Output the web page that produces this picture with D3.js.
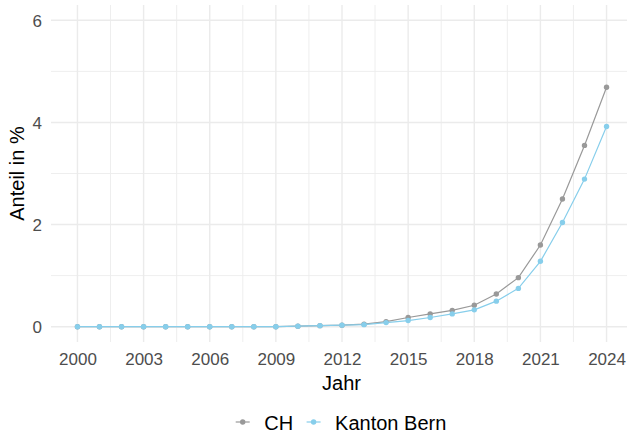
<!DOCTYPE html>
<html>
<head>
<meta charset="utf-8">
<script src="https://cdn.jsdelivr.net/npm/d3@7"></script>
<style>
  body { margin: 0; background: #fff; }
  text { font-family: "Liberation Sans", Arial, sans-serif; }
</style>
</head>
<body>
<div id="chart"></div>
<script>
var years = d3.range(2000, 2025);
var chValues = [0, 0, 0, 0, 0, 0, 0, 0, 0, 0, 0.01, 0.02, 0.03, 0.05, 0.10, 0.18, 0.25, 0.32, 0.42, 0.64, 0.96, 1.60, 2.50, 3.55, 4.69];
var beValues = [0, 0, 0, 0, 0, 0, 0, 0, 0, 0, 0.01, 0.02, 0.03, 0.04, 0.08, 0.12, 0.18, 0.25, 0.33, 0.50, 0.75, 1.28, 2.04, 2.89, 3.92];
var seriesNames = ["CH", "Kanton Bern"];
var seriesColors = ["#999999", "#87ceeb"];
var xTicks = [2000, 2003, 2006, 2009, 2012, 2015, 2018, 2021, 2024];
var xMinor = [2001.5, 2004.5, 2007.5, 2010.5, 2013.5, 2016.5, 2019.5, 2022.5];
var yTicks = [0, 2, 4, 6];
var yMinor = [1, 3, 5];

var W = 627, H = 441;
var panel = {left: 51, right: 633, top: 5, bottom: 342};

var svg = d3.select("#chart").append("svg")
    .attr("width", W)
    .attr("height", H);

var x = d3.scaleLinear().domain([1998.8, 2025.2]).range([panel.left, panel.right]);
var y = d3.scaleLinear().domain([-0.3, 6.3]).range([panel.bottom, panel.top]);

var grid = svg.append("g").attr("class", "grid");

// minor grid
grid.selectAll(".vminor").data(xMinor).enter().append("line")
    .attr("x1", function(d) { return x(d); }).attr("x2", function(d) { return x(d); })
    .attr("y1", panel.top).attr("y2", panel.bottom)
    .attr("stroke", "#ececec").attr("stroke-width", 0.9);
grid.selectAll(".hminor").data(yMinor).enter().append("line")
    .attr("y1", function(d) { return y(d); }).attr("y2", function(d) { return y(d); })
    .attr("x1", panel.left).attr("x2", panel.right)
    .attr("stroke", "#ececec").attr("stroke-width", 0.9);

// major grid
grid.selectAll(".vmajor").data(xTicks).enter().append("line")
    .attr("x1", function(d) { return x(d); }).attr("x2", function(d) { return x(d); })
    .attr("y1", panel.top).attr("y2", panel.bottom)
    .attr("stroke", "#ebebeb").attr("stroke-width", 1.4);
grid.selectAll(".hmajor").data(yTicks).enter().append("line")
    .attr("y1", function(d) { return y(d); }).attr("y2", function(d) { return y(d); })
    .attr("x1", panel.left).attr("x2", panel.right)
    .attr("stroke", "#ebebeb").attr("stroke-width", 1.4);

// axes
var xAxis = d3.axisBottom(x).tickValues(xTicks).tickSize(0).tickPadding(0).tickFormat(d3.format("d"));
var yAxis = d3.axisLeft(y).tickValues(yTicks).tickSize(0).tickPadding(0).tickFormat(d3.format("d"));

svg.append("g")
    .attr("transform", "translate(0," + panel.bottom + ")")
    .call(xAxis)
    .call(function(g) { g.select(".domain").remove(); })
    .selectAll("text")
      .attr("y", 22.5).attr("dy", null)
      .attr("fill", "#4d4d4d")
      .style("font-size", "17px")
      .style("font-family", "Liberation Sans, Arial, sans-serif");

svg.append("g")
    .attr("transform", "translate(" + 42 + ",0)")
    .call(yAxis)
    .call(function(g) { g.select(".domain").remove(); })
    .selectAll("text")
      .attr("x", 0).attr("dy", "0.36em")
      .attr("fill", "#4d4d4d")
      .style("font-size", "17px")
      .style("font-family", "Liberation Sans, Arial, sans-serif");

svg.append("text")
    .attr("x", (panel.left + panel.right) / 2 - 0.5)
    .attr("y", 389.5)
    .attr("text-anchor", "middle")
    .style("font-size", "20px")
    .text("Jahr");

svg.append("text")
    .attr("transform", "translate(24," + ((panel.top + panel.bottom) / 2) + ") rotate(-90)")
    .attr("text-anchor", "middle")
    .style("font-size", "20px")
    .text("Anteil in %");

// series
var series = [chValues, beValues];
var line = d3.line()
    .x(function(d, i) { return x(years[i]); })
    .y(function(d) { return y(d); });

series.forEach(function(vals, k) {
  svg.append("path")
      .datum(vals)
      .attr("fill", "none")
      .attr("stroke", seriesColors[k])
      .attr("stroke-width", 1.2)
      .attr("d", line);
  svg.selectAll(".pt" + k).data(vals).enter().append("circle")
      .attr("cx", function(d, i) { return x(years[i]); })
      .attr("cy", function(d) { return y(d); })
      .attr("r", 2.7)
      .attr("fill", seriesColors[k]);
});

// legend
var legend = svg.append("g");
var lx = 0, ly = 422;
seriesNames.forEach(function(name, k) {
  var item = legend.append("g").attr("transform", "translate(" + lx + ",0)");
  item.append("line")
      .attr("x1", 0).attr("x2", 14)
      .attr("y1", ly).attr("y2", ly)
      .attr("stroke", seriesColors[k]).attr("stroke-width", 1.2);
  item.append("circle").attr("cx", 7).attr("cy", ly).attr("r", 2.7).attr("fill", seriesColors[k]);
  var t = item.append("text")
      .attr("x", 28.5).attr("y", ly + 7.5)
      .style("font-size", "20px")
      .text(name);
  lx += 28.5 + t.node().getComputedTextLength() + 13.5;
});
var lw = legend.node().getBBox().width;
legend.attr("transform", "translate(" + (341 - lw / 2) + ",0)");
</script>
</body>
</html>
